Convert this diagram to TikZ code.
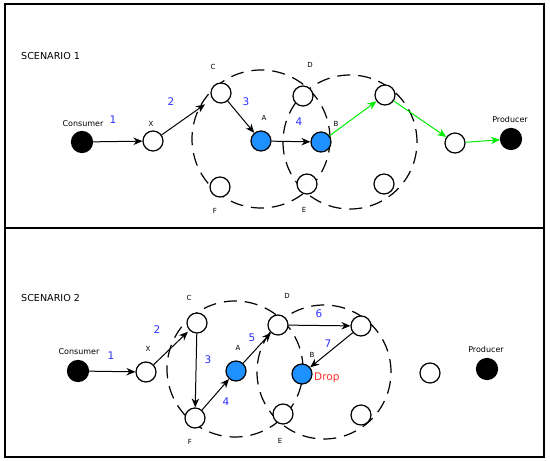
\documentclass[tikz,border=0pt]{standalone}
\usepackage{fontspec}
\setmainfont{DejaVu Sans}
\usetikzlibrary{arrows.meta}
\definecolor{cacheblue}{RGB}{30,144,255}
\definecolor{hopblue}{RGB}{45,45,255}
\definecolor{fwdgreen}{RGB}{0,235,0}
\definecolor{dropred}{RGB}{255,45,45}

\begin{document}
\begin{tikzpicture}[
	x=1pt,y=-1pt,
	peer/.style={draw,circle,fill=white,minimum size=20pt,inner sep=0pt,line width=1.2pt},
	cache/.style={peer,fill=cacheblue},
	endpt/.style={peer,fill=black,minimum size=21pt},
	zone/.style={line width=1.2pt,dash pattern=on 13pt off 8pt},
	tag/.style={inner sep=0pt,font=\fontsize{7}{8}\selectfont},
	role/.style={inner sep=0pt,font=\fontsize{8}{9}\selectfont},
	title/.style={anchor=west,inner sep=0pt,font=\fontsize{9.6}{11}\selectfont},
	hop/.style={inner sep=0pt,text=hopblue,font=\fontsize{10.5}{12}\selectfont},
	req/.style={-{Stealth[length=9pt,width=7.5pt]},line width=1pt},
	fwd/.style={req,fwdgreen}
	]
	\useasboundingbox (0,0) rectangle (550,461);
	\draw[line width=1.3pt] (5,4) rectangle (544,457);
	\draw[line width=1.3pt] (5,228) -- (544,228);

	\node[title]  (t1) at (21,56)  {SCENARIO 1};
	\draw[zone]  (261,139) circle[radius=69pt];
	\draw[zone]  (350,142) circle[radius=67pt];
	\node[endpt]  (cons1) at (82,142)  {};
	\node[peer]  (x1) at (153,141)  {};
	\node[peer]  (c1) at (221,93)  {};
	\node[cache]  (a1) at (261,141)  {};
	\node[peer]  (d1) at (303,96)  {};
	\node[cache]  (b1) at (321,142)  {};
	\node[peer]  (e1) at (307,184)  {};
	\node[peer]  (f1) at (220,187)  {};
	\node[peer]  (g1) at (385,95)  {};
	\node[peer]  (h1) at (384,184)  {};
	\node[peer]  (k1) at (455,143)  {};
	\node[endpt]  (prod1) at (511,139)  {};
	\node[role]  (lcons1) at (83,124)  {Consumer};
	\node[role]  (lprod1) at (510,120)  {Producer};
	\node[tag]  (lx1) at (151,124)  {X};
	\node[tag]  (lc1) at (213,67)  {C};
	\node[tag]  (la1) at (264,118)  {A};
	\node[tag]  (ld1) at (310,65)  {D};
	\node[tag]  (lb1) at (336,124)  {B};
	\node[tag]  (le1) at (304,210)  {E};
	\node[tag]  (lf1) at (215,211)  {F};
	\node[hop]  (n11) at (113,120)  {1};
	\node[hop]  (n12) at (171,102)  {2};
	\node[hop]  (n13) at (246,102)  {3};
	\node[hop]  (n14) at (299,122)  {4};
	\path[draw,req]  (cons1) -- (x1);
	\path[draw,req,shorten >=9pt]  (x1) -- (c1);
	\path[draw,req]  (c1) -- (a1);
	\path[draw,req]  (a1) -- (b1);
	\path[draw,fwd]  (b1) -- (g1);
	\path[draw,fwd]  (g1) -- (k1);
	\path[draw,fwd]  (k1) -- (prod1);

	\node[title]  (t2) at (21,298)  {SCENARIO 2};
	\draw[zone]  (235,369) circle[radius=68pt];
	\draw[zone]  (324,372) circle[radius=67pt];
	\node[endpt]  (cons2) at (78,371)  {};
	\node[peer]  (x2) at (146,372)  {};
	\node[peer]  (c2) at (197,323)  {};
	\node[cache]  (a2) at (236,371)  {};
	\node[peer]  (d2) at (278,325)  {};
	\node[cache]  (b2) at (302,374)  {};
	\node[peer]  (e2) at (283,414)  {};
	\node[peer]  (f2) at (195,418)  {};
	\node[peer]  (g2) at (361,326)  {};
	\node[peer]  (h2) at (361,415)  {};
	\node[peer]  (k2) at (430,373)  {};
	\node[endpt]  (prod2) at (487,369)  {};
	\node[role]  (lcons2) at (79,352)  {Consumer};
	\node[role]  (lprod2) at (486,350)  {Producer};
	\node[tag]  (lx2) at (148,349)  {X};
	\node[tag]  (lc2) at (189,298)  {C};
	\node[tag]  (la2) at (238,348)  {A};
	\node[tag]  (ld2) at (287,296)  {D};
	\node[tag]  (lb2) at (312,355)  {B};
	\node[tag]  (le2) at (280,441)  {E};
	\node[tag]  (lf2) at (190,442)  {F};
	\node[hop,anchor=west,text=dropred]  (drop) at (314,378)  {Drop};
	\node[hop]  (n21) at (111,356)  {1};
	\node[hop]  (n22) at (157,330)  {2};
	\node[hop]  (n23) at (208,360)  {3};
	\node[hop]  (n24) at (226,402)  {4};
	\node[hop]  (n25) at (252,338)  {5};
	\node[hop]  (n26) at (319,314)  {6};
	\node[hop]  (n27) at (328,344)  {7};
	\path[draw,req]  (cons2) -- (x2);
	\path[draw,req,shorten >=2pt]  (x2) -- (c2);
	\path[draw,req]  (c2) -- (f2);
	\path[draw,req]  (f2) -- (a2);
	\path[draw,req]  (a2) -- (d2);
	\path[draw,req]  (d2) -- (g2);
	\path[draw,req]  (g2) -- (b2);
\end{tikzpicture}
\end{document}
